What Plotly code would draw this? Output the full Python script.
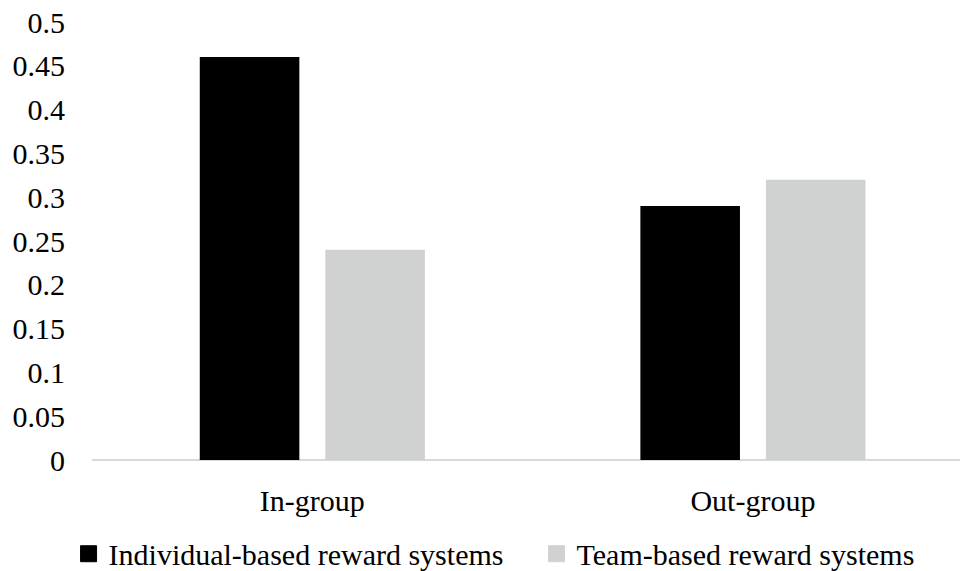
import plotly.graph_objects as go

categories = ["In-group", "Out-group"]
individual = [0.46, 0.29]
team = [0.24, 0.32]
series_names = ["Individual-based reward systems", "Team-based reward systems"]
series_colors = ["#000000", "#d0d2d1"]
y_ticks = [0, 0.05, 0.1, 0.15, 0.2, 0.25, 0.3, 0.35, 0.4, 0.45, 0.5]
y_tick_labels = ["0", "0.05", "0.1", "0.15", "0.2", "0.25", "0.3", "0.35", "0.4", "0.45", "0.5"]

FONT = "Liberation Serif"
FS = 30

fig = go.Figure()
fig.add_trace(go.Bar(x=categories, y=individual, name=series_names[0],
                     marker=dict(color=series_colors[0], line=dict(width=0)),
                     width=0.226, offset=-0.2554, showlegend=False))
fig.add_trace(go.Bar(x=categories, y=team, name=series_names[1],
                     marker=dict(color=series_colors[1], line=dict(width=0)),
                     width=0.226, offset=0.0295, showlegend=False))
# legend keys (larger square swatches)
for name, col in zip(series_names, series_colors):
    fig.add_trace(go.Scatter(x=[None], y=[None], mode="markers", name=name,
                             marker=dict(symbol="square", size=16, color=col,
                                         line=dict(width=1, color=col))))

fig.update_layout(
    width=960, height=571,
    margin=dict(l=92, r=0, t=22, b=111, autoexpand=False),
    paper_bgcolor="white", plot_bgcolor="white",
    font=dict(family=FONT, size=FS, color="#000000"),
    barmode="group",
    showlegend=True,
    legend=dict(orientation="h", x=-0.027, xanchor="left", y=-0.214, yanchor="middle",
                font=dict(family=FONT, size=FS), itemsizing="trace", traceorder="normal",
                entrywidth=423, entrywidthmode="pixels", itemwidth=30,
                bgcolor="rgba(0,0,0,0)"),
    xaxis=dict(range=[-0.5, 1.47], showgrid=False, zeroline=False,
               showline=False, ticks="", ticklabelstandoff=20,
               tickfont=dict(family=FONT, size=FS)),
    yaxis=dict(range=[0, 0.5], tickvals=y_ticks, ticktext=y_tick_labels,
               showgrid=False, zeroline=True, zerolinecolor="#d9d9d9", zerolinewidth=2,
               showline=False, ticks="", ticklabelstandoff=26,
               tickfont=dict(family=FONT, size=FS)),
)

fig.write_html("out.html")
